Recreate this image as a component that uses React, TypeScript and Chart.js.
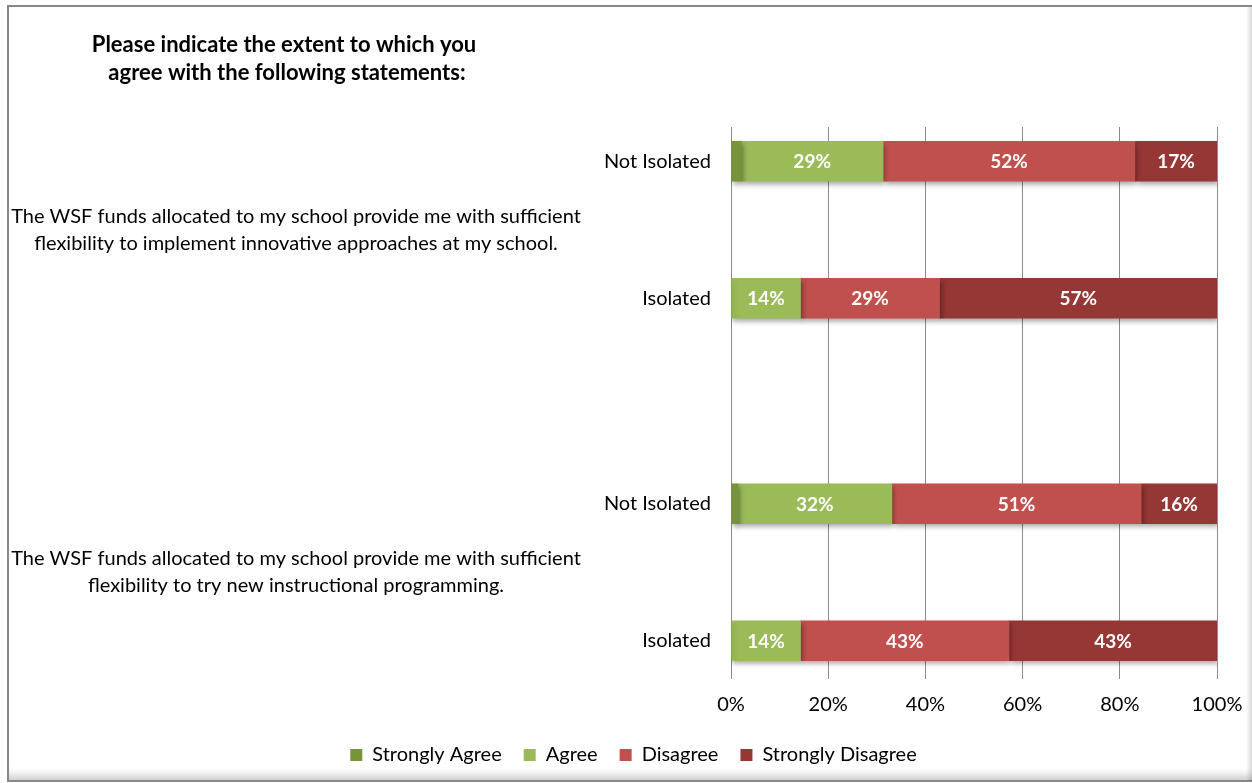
import React, { useEffect, useRef } from 'react';
import { Chart, registerables } from 'chart.js';

Chart.register(...registerables);

const categories = ['Not Isolated', '', 'Isolated', '', '', 'Not Isolated', '', 'Isolated'];
const seriesNames = ['Strongly Agree', 'Agree', 'Disagree', 'Strongly Disagree'];
const seriesColors = ['#77933C', '#9BBB59', '#C0504D', '#953735'];
const stronglyAgree = [2.1, null, 0, null, null, 1.4, null, 0];
const agree = [29.2, null, 14.3, null, null, 31.7, null, 14.3];
const disagree = [51.8, null, 28.6, null, null, 51.3, null, 42.9];
const stronglyDisagree = [16.9, null, 57.1, null, null, 15.6, null, 42.8];
const xTickValues = [0, 20, 40, 60, 80, 100];
const titleLines = ['Please indicate the extent to which you', 'agree with the following statements:'];
const groupTexts = [
  ['The WSF funds allocated to my school provide me with sufficient', 'flexibility to implement innovative approaches at my school.'],
  ['The WSF funds allocated to my school provide me with sufficient', 'flexibility to try new instructional programming.'],
];
const groupRowIndexes = [[0, 2], [5, 7]];

const FONT = 'Lato, "Liberation Sans", sans-serif';

const labelPlugin = {
  id: 'customText',
  beforeDatasetsDraw(chart: any) {
    const ctx = chart.ctx;
    ctx.save();
    ctx.shadowColor = 'rgba(0,0,0,0.35)';
    ctx.shadowBlur = 5;
    ctx.shadowOffsetX = 2;
    ctx.shadowOffsetY = 3;
  },
  afterDatasetsDraw(chart: any) {
    const ctx = chart.ctx;
    ctx.restore();
    ctx.save();
    ctx.fillStyle = '#ffffff';
    ctx.font = `bold 19px ${FONT}`;
    ctx.textAlign = 'center';
    ctx.textBaseline = 'middle';
    chart.data.datasets.forEach((ds: any, di: number) => {
      const meta = chart.getDatasetMeta(di);
      meta.data.forEach((el: any, i: number) => {
        const v = ds.data[i];
        if (v == null || v < 5) return;
        const x = (el.x + el.base) / 2;
        ctx.fillText(`${Math.round(v)}%`, x, el.y + 1);
      });
    });
    ctx.restore();
  },
  afterDraw(chart: any) {
    const ctx = chart.ctx;
    const yScale = chart.scales.y;
    ctx.save();
    ctx.fillStyle = '#000000';
    ctx.textAlign = 'center';
    ctx.textBaseline = 'middle';
    ctx.font = `bold 22px ${FONT}`;
    ctx.fillText(titleLines[0], 284, 45);
    ctx.fillText(titleLines[1], 287, 73);
    ctx.font = `20px ${FONT}`;
    groupTexts.forEach((lines, gi) => {
      const [a, b] = groupRowIndexes[gi];
      const mid = (yScale.getPixelForValue(a) + yScale.getPixelForValue(b)) / 2;
      ctx.fillText(lines[0], 296, mid - 13.5);
      ctx.fillText(lines[1], 296, mid + 13.5);
    });
    ctx.restore();
  },
};

export default function App() {
  const canvasRef = useRef<HTMLCanvasElement | null>(null);

  useEffect(() => {
    const canvas = canvasRef.current;
    if (!canvas) return;
    const seriesData = [stronglyAgree, agree, disagree, stronglyDisagree];
    const chart = new Chart(canvas, {
      type: 'bar',
      data: {
        labels: categories,
        datasets: seriesNames.map((name, i) => ({
          label: name,
          data: seriesData[i] as any,
          backgroundColor: seriesColors[i],
          borderWidth: 0,
          barThickness: 40,
        })),
      },
      options: {
        indexAxis: 'y',
        responsive: false,
        animation: false,
        devicePixelRatio: 1,
        layout: { padding: { top: 127, right: 35, left: 50, bottom: 8 } },
        scales: {
          x: {
            stacked: true,
            min: 0,
            max: 100,
            afterBuildTicks(scale: any) {
              scale.ticks = xTickValues.map((v) => ({ value: v }));
            },
            afterFit(scale: any) {
              scale.height = 48;
              scale.paddingLeft = 0;
              scale.paddingRight = 0;
            },
            ticks: {
              callback: (v: any) => `${v}%`,
              color: '#000000',
              font: { family: FONT, size: 20 },
              padding: 14,
              maxRotation: 0,
            },
            grid: { color: '#8c8c8c', lineWidth: 1, drawTicks: true, tickLength: 4, tickColor: '#8c8c8c' },
            border: { display: false },
          },
          y: {
            stacked: true,
            afterFit(scale: any) {
              scale.width = 681;
              scale.paddingTop = 0;
              scale.paddingBottom = 0;
            },
            ticks: {
              color: '#000000',
              font: { family: FONT, size: 20 },
              padding: 20,
              autoSkip: false,
            },
            grid: { display: false, drawTicks: false },
            border: { display: false },
          },
        },
        plugins: {
          legend: {
            position: 'bottom',
            labels: {
              boxWidth: 12,
              boxHeight: 12,
              padding: 22,
              color: '#000000',
              font: { family: FONT, size: 20 },
            },
          },
          tooltip: { enabled: false },
          title: { display: false },
        },
      },
      plugins: [labelPlugin],
    });
    return () => chart.destroy();
  }, []);

  return (
    <div style={{ position: 'fixed', left: 0, top: 0, width: 1252, height: 783, background: '#ffffff', overflow: 'hidden' }}>
      <div
        style={{
          position: 'absolute',
          left: 7,
          top: 5,
          width: 1260,
          height: 777,
          boxSizing: 'border-box',
          borderLeft: '2px solid #888888',
          borderTop: '2px solid #888888',
          borderBottom: '2px solid #888888',
          boxShadow: 'inset 0 -10px 10px -6px rgba(0,0,0,0.22)',
        }}
      />
      <div
        style={{
          position: 'absolute',
          right: 0,
          top: 7,
          width: 6,
          height: 774,
          background: 'linear-gradient(to right, rgba(0,0,0,0), rgba(0,0,0,0.15))',
        }}
      />
      <canvas ref={canvasRef} width={1252} height={783} style={{ position: 'absolute', left: 0, top: 0 }} />
    </div>
  );
}
